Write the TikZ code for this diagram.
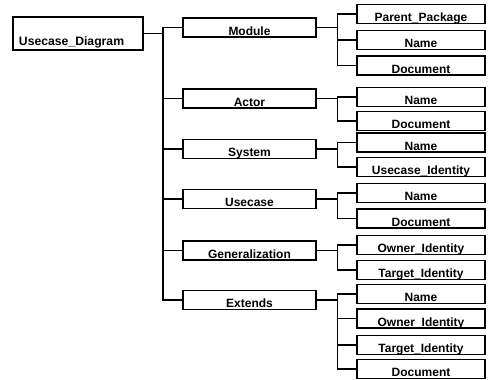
\documentclass[tikz,border=0pt]{standalone}
\usepackage{fontspec}
\setmainfont{Liberation Sans}
\begin{document}
\begin{tikzpicture}[x=1pt, y=-1pt, line width=1.3pt,
rootbox/.style={draw, minimum width=130pt, minimum height=33pt, inner xsep=6pt, inner ysep=0pt,
  text width=118pt, align=left, text height=27pt, text depth=3pt, font=\fontsize{12.2}{13}\selectfont\bfseries},
box/.style={draw, minimum width=133pt, minimum height=19pt, inner sep=0pt,
  text height=16.5pt, text depth=1.5pt, font=\fontsize{12}{13}\selectfont\bfseries},
leaf/.style={box, minimum width=128pt}]
\useasboundingbox (0,0) rectangle (491,380);
\path (78,33.5) node[rootbox] (diag) {Usecase\_Diagram};
\coordinate (trunk) at (163,33.5);
\foreach \n/\y/\t in {mod/27.5/Module, act/98.5/Actor, sys/149/System, uc/199/Usecase, gen/250.5/Generalization, ext/300/Extends}
{
\path (249.5,\y) node[box] (\n) {\t};
\coordinate (\n j) at ([xshift=21pt]\n.east);
\draw (diag.east) -- (trunk) |- (\n.west);
}
\foreach \p/\n/\y/\t in {mod/pp/14/Parent\_Package, mod/modn/40/Name, mod/modd/65.5/Document,
  act/actn/97/Name, act/actd/121/Document,
  sys/sysn/142.5/Name, sys/sysu/167/Usecase\_Identity,
  uc/ucn/193/Name, uc/ucd/218.5/Document,
  gen/geno/245/Owner\_Identity, gen/gent/270/Target\_Identity,
  ext/extn/294/Name, ext/exto/318.5/Owner\_Identity, ext/extt/345/Target\_Identity, ext/extd/369/Document}
{
\path (421,\y) node[leaf] (\n) {\t};
\draw (\p.east) -- (\p j) |- (\n.west);
}
\end{tikzpicture}
\end{document}
